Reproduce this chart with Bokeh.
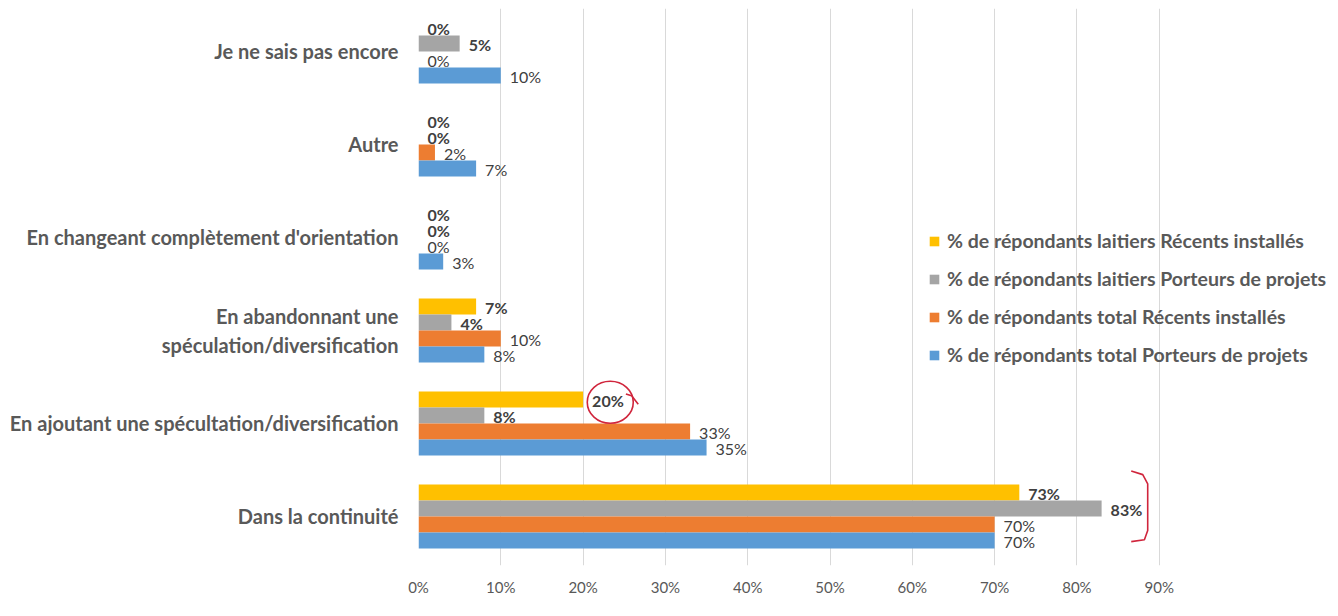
from bokeh.plotting import figure
from bokeh.models import ColumnDataSource, FixedTicker, Legend, LegendItem, NumeralTickFormatter
from bokeh.core.properties import value
from bokeh.transform import dodge
from bokeh.embed import file_html
from bokeh.resources import INLINE

# ---- data (top to bottom as in the chart) ----
categories = [
    "Je ne sais pas encore",
    "Autre",
    "En changeant complètement d'orientation",
    "En abandonnant une\nspéculation/diversification",
    "En ajoutant une spécultation/diversification",
    "Dans la continuité",
]
series_names = [
    "% de répondants laitiers Récents installés",
    "% de répondants laitiers Porteurs de projets",
    "% de répondants total Récents installés",
    "% de répondants total Porteurs de projets",
]
laitiers_recents = [0.00, 0.00, 0.00, 0.07, 0.20, 0.73]
laitiers_porteurs = [0.05, 0.00, 0.00, 0.04, 0.08, 0.83]
total_recents = [0.00, 0.02, 0.00, 0.10, 0.33, 0.70]
total_porteurs = [0.10, 0.07, 0.03, 0.08, 0.35, 0.70]
x_ticks = [0, 0.1, 0.2, 0.3, 0.4, 0.5, 0.6, 0.7, 0.8, 0.9]

colors = ["#FFC000", "#A5A5A5", "#ED7D31", "#5B9BD5"]
bold_labels = [True, True, False, False]
series_values = [laitiers_recents, laitiers_porteurs, total_recents, total_porteurs]

n = len(categories)
ypos = [n - 1 - i for i in range(n)]  # top category highest

FONT = "Lato"
TXT = "#595959"

p = figure(
    width=1330, height=600,
    x_range=(0, 1.1081), y_range=(-0.527, 5.462),
    output_backend="svg", toolbar_location=None,
    min_border_left=418, min_border_right=0, min_border_top=8, min_border_bottom=35,
)
p.outline_line_color = None
p.background_fill_color = "white"
p.border_fill_color = "white"

bar_h = 0.172
offsets = [1.5 * bar_h, 0.5 * bar_h, -0.5 * bar_h, -1.5 * bar_h]

legend_items = []
for name, vals, col, off, bold in zip(series_names, series_values, colors, offsets, bold_labels):
    src = ColumnDataSource(dict(
        y=ypos, v=vals,
        lab=[f"{round(v * 100)}%" for v in vals],
    ))
    r = p.hbar(y=dodge("y", off), right="v", left=0, height=bar_h,
               fill_color=col, line_color=None, source=src)
    p.text(x="v", y=dodge("y", off), text="lab", source=src,
           x_offset=9, y_offset=1,
           text_font=value(FONT), text_font_size="16px",
           text_font_style="bold" if bold else "normal",
           text_color="#404040", text_align="left", text_baseline="middle")
    legend_items.append(LegendItem(label=name, renderers=[r]))

# hand-drawn style red annotations
ajout = categories.index("En ajoutant une spécultation/diversification")
cont = categories.index("Dans la continuité")
xc = laitiers_recents[ajout]
yc = ypos[ajout] + offsets[0]
p.ellipse(x=[xc + 0.033], y=[yc - 0.03],
          width=46, height=42, width_units="screen", height_units="screen",
          fill_color=None, line_color="#D0253C", line_width=1.6)
p.line(x=[xc + 0.052, xc + 0.059, xc + 0.067],
       y=[yc + 0.06, yc + 0.04, yc - 0.05],
       line_color="#D0253C", line_width=1.6)
bx = laitiers_porteurs[cont] + 0.04
p.line(x=[bx - 0.004, bx + 0.01, bx + 0.016, bx + 0.016, bx + 0.012, bx - 0.004],
       y=[ypos[cont] + 0.49, ypos[cont] + 0.45, ypos[cont] + 0.35,
          ypos[cont] - 0.15, ypos[cont] - 0.25, ypos[cont] - 0.27],
       line_color="#D0253C", line_width=1.6)

# axes
p.xaxis.ticker = FixedTicker(ticks=x_ticks)
p.xaxis.formatter = NumeralTickFormatter(format="0%")
p.xaxis.axis_line_color = None
p.xaxis.major_tick_line_color = None
p.xaxis.minor_tick_line_color = None
p.xaxis.major_label_standoff = 6
p.xaxis.major_label_text_font = FONT
p.xaxis.major_label_text_font_size = "15px"
p.xaxis.major_label_text_color = TXT

p.yaxis.ticker = FixedTicker(ticks=ypos)
p.yaxis.major_label_overrides = {y: c for y, c in zip(ypos, categories)}
p.yaxis.axis_line_color = None
p.yaxis.major_tick_line_color = None
p.yaxis.minor_tick_line_color = None
p.yaxis.major_label_standoff = 14
p.yaxis.major_label_text_font = FONT
p.yaxis.major_label_text_font_size = "20px"
p.yaxis.major_label_text_font_style = "bold"
p.yaxis.major_label_text_color = TXT

p.ygrid.grid_line_color = None
p.xgrid.ticker = FixedTicker(ticks=x_ticks)
p.xgrid.grid_line_color = "#D9D9D9"
p.xgrid.grid_line_width = 1

legend = Legend(items=legend_items, location=(510, 199),
                label_text_font=FONT, label_text_font_size="19.5px",
                label_text_font_style="bold", label_text_color=TXT,
                glyph_width=12, glyph_height=12, spacing=15, label_standoff=7,
                padding=4, margin=0, border_line_color=None,
                background_fill_alpha=0.0)
p.add_layout(legend)

open("out.html", "w").write(file_html(p, INLINE))
